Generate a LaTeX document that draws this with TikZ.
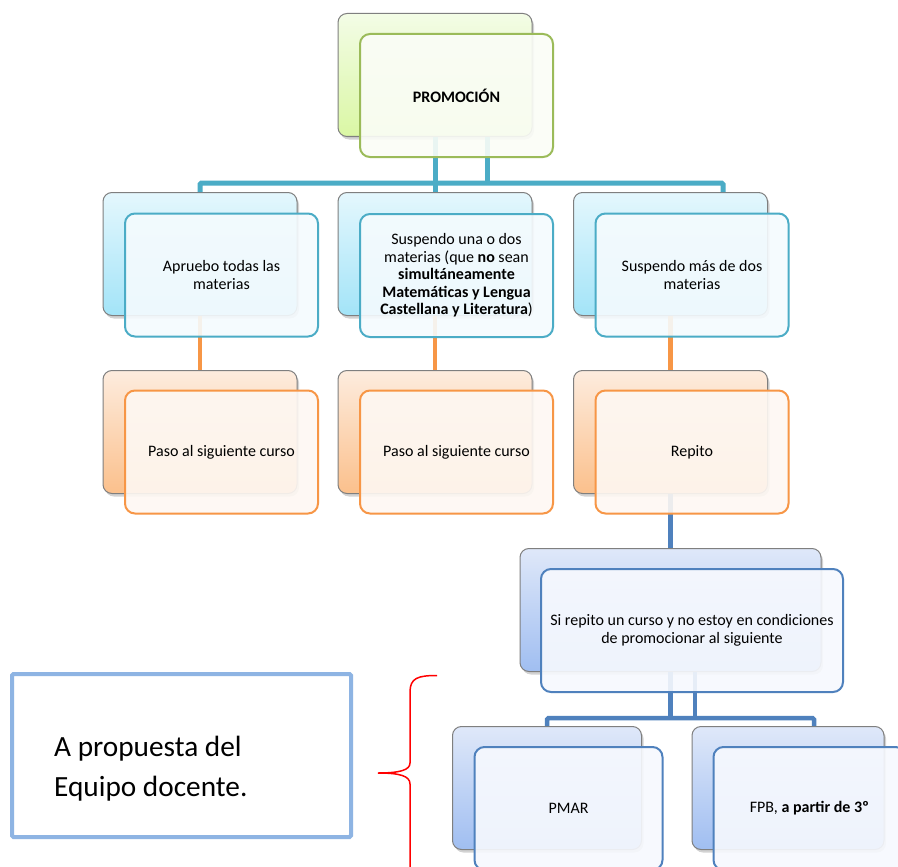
\documentclass[tikz,border=0pt]{standalone}
\usepackage{fontspec}
\setmainfont{Carlito}
\usetikzlibrary{shadows}
\definecolor{gborder}{HTML}{9BBB59}
\definecolor{tborder}{HTML}{4BACC6}
\definecolor{oborder}{HTML}{F79646}
\definecolor{bborder}{HTML}{4F81BD}
\definecolor{gtop}{HTML}{F3FCE6}
\definecolor{gbot}{HTML}{DAF7A4}
\definecolor{ttop}{HTML}{E4F7FD}
\definecolor{tbot}{HTML}{A3E4F8}
\definecolor{otop}{HTML}{FDECDE}
\definecolor{obot}{HTML}{FBC08C}
\definecolor{btop}{HTML}{DFE8F9}
\definecolor{bbot}{HTML}{A0BEF1}
\definecolor{gfront}{HTML}{FBFDF7}
\definecolor{tfront}{HTML}{F5FBFE}
\definecolor{ofront}{HTML}{FEF8F3}
\definecolor{bfront}{HTML}{F7F9FE}
\definecolor{equipoc}{HTML}{8EB4E3}
\definecolor{backedge}{HTML}{7F7F7F}
\tikzset{
  backbox/.style={rectangle, rounded corners=9pt, draw=backedge, line width=1pt,
    minimum width=194pt, minimum height=123pt, inner sep=0pt,
    drop shadow={opacity=0.35, shadow xshift=2pt, shadow yshift=-3pt}},
  frontbox/.style={rectangle, rounded corners=10pt, line width=2pt,
    minimum width=193pt, minimum height=123pt, inner sep=2pt,
    fill opacity=0.9, text opacity=1, align=center,
    font=\fontsize{16}{17.5}\selectfont},
  gback/.style={backbox, top color=gtop, bottom color=gbot},
  tback/.style={backbox, top color=ttop, bottom color=tbot},
  oback/.style={backbox, top color=otop, bottom color=obot},
  bback/.style={backbox, top color=btop, bottom color=bbot},
  gfr/.style={frontbox, draw=gborder, fill=gfront},
  tfr/.style={frontbox, draw=tborder, fill=tfront},
  ofr/.style={frontbox, draw=oborder, fill=ofront},
  bfr/.style={frontbox, draw=bborder, fill=bfront},
  tline/.style={draw=tborder, line width=5pt, rounded corners=1.5pt},
  oline/.style={draw=oborder, line width=4.5pt},
  bline/.style={draw=bborder, line width=4.5pt, rounded corners=1.5pt},
  bracestyle/.style={draw=red, line width=1.5pt}
}
\begin{document}
\begin{tikzpicture}[x=1pt,y=-1pt]
\useasboundingbox (0,0) rectangle (898,867);
\fill[white] (0,0) rectangle (898,867);
\clip (0,0) rectangle (898,867);

% back boxes
\node[gback] (pb) at (435,75) {};
\node[tback] (c1b) at (200,254) {};
\node[tback] (c2b) at (435,254) {};
\node[tback] (c3b) at (670.5,254) {};
\node[oback] (d1b) at (200,432) {};
\node[oback] (d2b) at (435,432) {};
\node[oback] (d3b) at (670.5,432) {};
\node[bback, minimum width=301pt] (sb) at (670.5,610) {};
\node[bback, minimum width=189pt] (e1b) at (547,788) {};
\node[bback, minimum width=192pt] (e2b) at (788,788) {};

% connectors
\coordinate (tr) at (723,183);
\coordinate (t2) at (487,183);
\draw[tline] (c1b.north) |- (tr) -- (tr |- c3b.north);
\draw[tline] (pb.south) -- (c2b.north);
\draw[tline] (pb.south -| t2) -- (t2);
\draw[oline] (c1b.south) -- (d1b.north);
\draw[oline] (c2b.south) -- (d2b.north);
\draw[oline] (c3b.south) -- (d3b.north);
\draw[bline] (d3b.south) -- (sb.north);
\coordinate (br) at (814,718);
\coordinate (b2) at (695,718);
\draw[bline] (e1b.north) |- (br) -- (br |- e2b.north);
\draw[bline] (sb.south) -- (sb.south |- br);
\draw[bline] (sb.south -| b2) -- (b2);

% front boxes
\node[gfr] (pf) at (456.5,95.5) {\textbf{PROMOCIÓN}};
\node[tfr] (c1f) at (221.5,275) {Apruebo todas las\\materias};
\node[tfr] (c2f) at (456.5,275.5) {Suspendo una o dos\\materias (que \textbf{no} sean\\\textbf{simultáneamente}\\\textbf{Matemáticas y Lengua}\\\textbf{Castellana y Literatura})};
\node[tfr] (c3f) at (692,275) {Suspendo más de dos\\materias};
\node[ofr] (d1f) at (221.5,452) {Paso al siguiente curso};
\node[ofr] (d2f) at (456.5,452) {Paso al siguiente curso};
\node[ofr] (d3f) at (692,452) {Repito};
\node[bfr, minimum width=302pt] (sf) at (692,630.5) {Si repito un curso y no estoy en condiciones\\de promocionar al siguiente};
\node[bfr, minimum width=188pt] (e1f) at (568.5,808.5) {PMAR};
\node[bfr, minimum width=192pt] (e2f) at (809.5,808.5) {FPB, \textbf{a partir de 3º}};

% side note
\node[draw=equipoc, line width=4pt, rounded corners=1.5pt, minimum width=339pt, minimum height=163pt] (equipo) at (181.5,755.5) {};
\node[anchor=west, align=left, inner sep=0pt, font=\fontsize{29.3}{40}\selectfont] (equipotxt) at (54,769) {A propuesta del\\Equipo docente.};

% brace
\draw[bracestyle] (437,675.5) .. controls (418,675.5) and (410,678) .. (410,692)
  -- (410,763) .. controls (410,770) and (400,773) .. (378,773)
  .. controls (400,773) and (410,776) .. (410,784) -- (410,870);
\end{tikzpicture}
\end{document}
